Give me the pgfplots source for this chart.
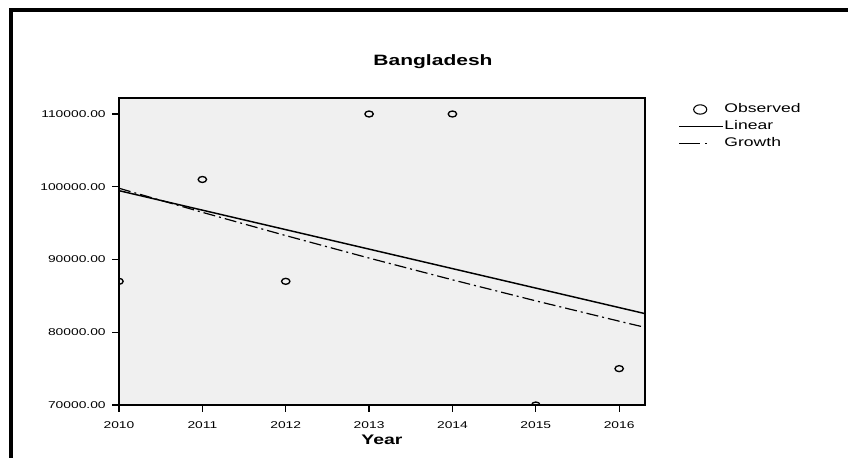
\documentclass[border=0pt]{standalone}
\usepackage{fontspec}
\setmainfont{Liberation Sans}[FakeStretch=1.4]
\usepackage{pgfplots}
\pgfplotsset{compat=1.18}
\definecolor{bg}{HTML}{F0F0F0}
\begin{document}
\begin{tikzpicture}[x=1pt,y=1pt]
\useasboundingbox (0,0) rectangle (636,342.75);
% outer frame
\draw[line width=3pt] (8.25,-5) -- (8.25,335.25) -- (650,335.25);
\node[font=\bfseries\fontsize{11.25}{13}\selectfont] at (324.75,296.25) {Bangladesh};
\begin{axis}[
  at={(89.25pt,39pt)}, anchor=south west,
  scale only axis, width=394.5pt, height=230.25pt,
  xmin=2010, xmax=2016.31, ymin=70000, ymax=112200,
  xtick={2010,2011,2012,2013,2014,2015,2016},
  ytick={70000,80000,90000,100000,110000},
  xticklabel style={yshift=-4pt, /pgf/number format/1000 sep={}},
  yticklabel style={xshift=-1.5pt, /pgf/number format/.cd, fixed, fixed zerofill, precision=2, 1000 sep={}},
  /pgf/number format/assume math mode=true,
  ticklabel style={font=\fontsize{7.4}{8}\selectfont},
  tick align=outside, tick pos=left,
  major tick length=5pt,
  tick style={black, line width=0.9pt},
  axis line style={black, line width=1pt},
  axis background/.style={fill=bg},
  scaled y ticks=false,
  xlabel={Year},
  xlabel style={font=\bfseries\fontsize{10.4}{12}\selectfont, at={(axis description cs:0.5,-0.114)}, anchor=center},
  clip marker paths=true,
  legend style={at={(axis description cs:1,1)}, anchor=north west, xshift=25pt, yshift=-3.4pt,
    draw=none, fill=none, inner sep=0pt, column sep=0pt, row sep=2.75pt,
    font=\fontsize{9.4}{11}\selectfont,
    nodes={inner sep=0.5pt, text height=7pt, text depth=2pt}},
  legend cell align=left,
]
\addplot[only marks, mark=o, mark size=2.25pt, mark options={xscale=1.4, line width=1pt, black},
  legend image code/.code={\draw[solid, line width=0.8pt] (15.75pt,0pt) ellipse (4.9pt and 3.5pt); \path (0pt,0pt) (33pt,0pt);}]
coordinates {(2010,87000) (2011,101000) (2012,87000) (2013,110000) (2014,110000) (2015,70000) (2016,75000)};
\addlegendentry{Observed}
\addplot[black, line width=1.1pt, no marks,
  legend image code/.code={\draw[solid, black, line width=0.9pt] (0pt,0pt) -- (33pt,0pt);}]
coordinates {(2010,99464) (2016.31,82562)};
\addlegendentry{Linear}
\addplot[black, line width=0.9pt, no marks, dash pattern=on 9pt off 3pt on 1.5pt off 3pt,
  legend image code/.code={\draw[solid, black, line width=0.8pt] (0pt,0pt) -- (15.75pt,0pt); \draw[solid, black, line width=0.8pt] (19.5pt,0pt) -- (21pt,0pt); \path (33pt,0pt);}]
coordinates {(2010,99794) (2011,96486) (2012,93288) (2013,90196) (2014,87207) (2015,84316) (2016,81521) (2016.31,80673)};
\addlegendentry{Growth}
\end{axis}
\end{tikzpicture}
\end{document}
